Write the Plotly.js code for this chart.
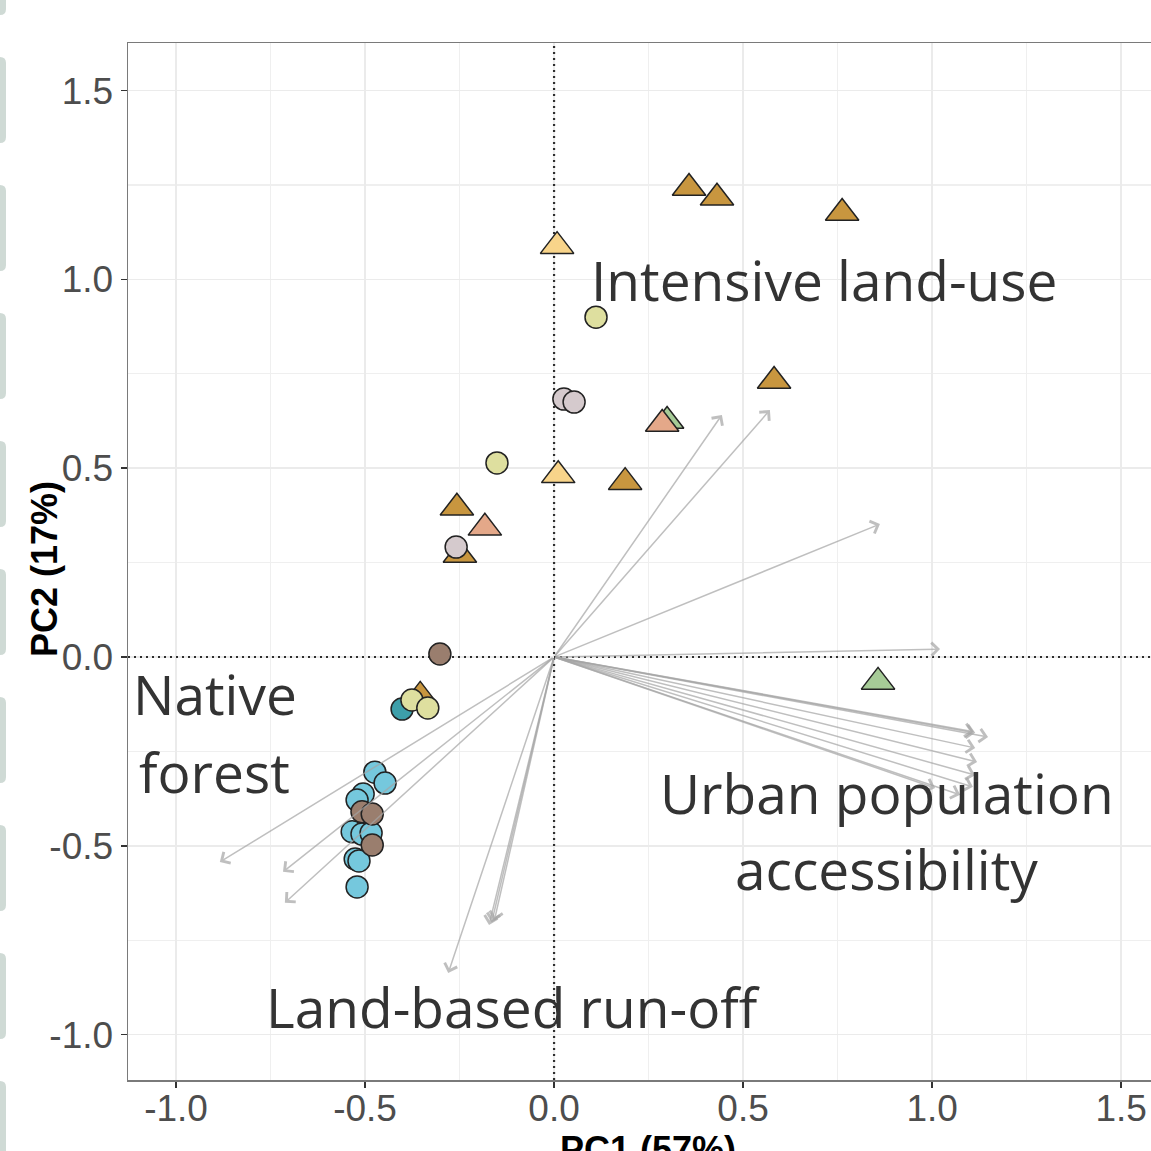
<!DOCTYPE html>
<html>
<head>
<meta charset="utf-8">
<script src="https://cdn.plot.ly/plotly-3.0.1.min.js"></script>
<style>
html, body { margin: 0; padding: 0; overflow: hidden; background: #ffffff; }
#chart { width: 1180px; height: 1175px; }
</style>
</head>
<body>
<div id="chart"></div>
<script>
// ---------------- data ----------------
const tickVals = [-1.0, -0.5, 0.0, 0.5, 1.0, 1.5];
const tickText = ['-1.0', '-0.5', '0.0', '0.5', '1.0', '1.5'];
const xTitle = 'PC1 (57%)';
const yTitle = 'PC2 (17%)';
const xRange = [-1.127, 1.624];
const yRange = [-1.1203, 1.626];

// site scores, triangles
const triGreenPC1 = [0.299, 0.857];
const triGreenPC2 = [0.625, -0.066];
const triGoldPC1 = [0.357, 0.431, 0.762, 0.582, 0.188, -0.257, -0.249, -0.354];
const triGoldPC2 = [1.242, 1.216, 1.176, 0.731, 0.463, 0.395, 0.270, -0.103];
const triLightPC1 = [0.008, 0.011];
const triLightPC2 = [1.088, 0.481];
const triSalmonPC1 = [0.286, -0.183];
const triSalmonPC2 = [0.617, 0.342];

// site scores, circles
const circBluePC1 = [-0.474, -0.447, -0.505, -0.521, -0.534, -0.508, -0.484, -0.526, -0.516, -0.521];
const circBluePC2 = [-0.305, -0.334, -0.363, -0.379, -0.463, -0.469, -0.466, -0.535, -0.540, -0.609];
const circTealPC1 = [-0.402];
const circTealPC2 = [-0.138];
const circBrownPC1 = [-0.302, -0.508, -0.481, -0.481];
const circBrownPC2 = [0.008, -0.410, -0.416, -0.498];
const circYellowPC1 = [0.111, -0.151, -0.376, -0.334];
const circYellowPC2 = [0.900, 0.514, -0.114, -0.135];
const circMauvePC1 = [0.026, 0.053, -0.259];
const circMauvePC2 = [0.683, 0.675, 0.291];

// variable loadings (arrow tips, drawn from the origin)
const loadPC1 = [0.444, 0.571, 0.862, 1.021,
                 1.114, 1.110, 1.148, 1.114, 1.119, 1.114, 1.108, 1.074, 1.008,
                 -0.884, -0.717, -0.712,
                 -0.172, -0.165, -0.158, -0.280];
const loadPC2 = [0.641, 0.654, 0.352, 0.021,
                 -0.201, -0.198, -0.212, -0.241, -0.278, -0.313, -0.344, -0.365, -0.347,
                 -0.543, -0.569, -0.651,
                 -0.710, -0.703, -0.698, -0.837];

const labelText = ['Intensive land-use', 'Native', 'forest', 'Urban population', 'accessibility', 'Land-based run-off'];

// ---------------- traces ----------------
const zeroDash = { color: '#2E2E2E', width: 2.2, dash: '2px,4px' };
const refLines = [
  { type: 'scatter', mode: 'lines', x: [0, 0], y: yRange, line: zeroDash, hoverinfo: 'skip', showlegend: false },
  { type: 'scatter', mode: 'lines', x: xRange, y: [0, 0], line: zeroDash, hoverinfo: 'skip', showlegend: false }
];

const outline = { color: '#222222', width: 1.5 };
function pts(x, y, symbol, color, size) {
  return {
    type: 'scatter', mode: 'markers', x: x, y: y, hoverinfo: 'x+y', showlegend: false,
    marker: { symbol: symbol, color: color, size: size, line: outline, opacity: 1 }
  };
}
const TRI = 29, CIRC = 22;
const traces = refLines.concat([
  pts(triGreenPC1, triGreenPC2, 'triangle-up', '#A6CB97', TRI),
  pts(triGoldPC1, triGoldPC2, 'triangle-up', '#C8963F', TRI),
  pts(triLightPC1, triLightPC2, 'triangle-up', '#F8D48A', TRI),
  pts(triSalmonPC1, triSalmonPC2, 'triangle-up', '#E4A889', TRI),
  pts(circBluePC1, circBluePC2, 'circle', '#75C8DD', CIRC),
  pts(circTealPC1, circTealPC2, 'circle', '#3D9FAA', CIRC),
  pts(circBrownPC1, circBrownPC2, 'circle', '#9A7E6E', CIRC),
  pts(circYellowPC1, circYellowPC2, 'circle', '#DEDF9F', CIRC),
  pts(circMauvePC1, circMauvePC2, 'circle', '#D5CACD', CIRC)
]);

// ---------------- annotations ----------------
const arrows = loadPC1.map((x, i) => ({
  x: x, y: loadPC2[i], xref: 'x', yref: 'y',
  ax: 0, ay: 0, axref: 'x', ayref: 'y',
  text: '', showarrow: true, arrowhead: 4, arrowsize: 1.7, arrowwidth: 1.5,
  arrowcolor: 'rgba(165,165,165,0.7)', standoff: 0, startstandoff: 0
}));

const labelFont = { family: 'Open Sans, Noto Sans, sans-serif', size: 55, color: '#333333' };
const labels = [
  { text: labelText[0], x: 0.093, y: 1.001, xanchor: 'left', yanchor: 'middle' },
  { text: labelText[1], x: -0.897, y: -0.097, xanchor: 'center', yanchor: 'middle' },
  { text: labelText[2], x: -0.897, y: -0.304, xanchor: 'center', yanchor: 'middle' },
  { text: labelText[3], x: 0.880, y: -0.360, xanchor: 'center', yanchor: 'middle' },
  { text: labelText[4], x: 0.880, y: -0.561, xanchor: 'center', yanchor: 'middle' },
  { text: labelText[5], x: -0.108, y: -0.925, xanchor: 'center', yanchor: 'middle' }
].map(a => Object.assign({ xref: 'x', yref: 'y', showarrow: false, font: labelFont }, a));

// ---------------- pixel helpers for paper-referenced decorations ----------------
const PL = 128, PR = 1168, PT = 43, PB = 1080;
function px2paperX(p) { return (p - PL) / (PR - PL); }
function px2paperY(p) { return (PB - p) / (PB - PT); }

const titleFont = { family: 'Liberation Sans, Arial, sans-serif', size: 36, color: '#000000', weight: 'bold' };
const yTitleAnno = {
  text: '<b>' + yTitle + '</b>', textangle: -90, showarrow: false,
  xref: 'paper', yref: 'paper', x: px2paperX(44), y: px2paperY(569),
  xanchor: 'center', yanchor: 'middle', font: titleFont
};

// slide-panel edges visible at the far left of the reference
function roundRect(x0, y0, x1, y1, r) {
  const X = px2paperX, Y = px2paperY;
  return 'M' + X(x0) + ',' + Y(y0) +
    ' L' + X(x1 - r) + ',' + Y(y0) +
    ' Q' + X(x1) + ',' + Y(y0) + ' ' + X(x1) + ',' + Y(y0 + r) +
    ' L' + X(x1) + ',' + Y(y1 - r) +
    ' Q' + X(x1) + ',' + Y(y1) + ' ' + X(x1 - r) + ',' + Y(y1) +
    ' L' + X(x0) + ',' + Y(y1) + ' Z';
}
const edgeShapes = [];
for (let k = -1; k <= 8; k++) {
  const top = 57 + 128 * k;
  edgeShapes.push({
    type: 'path', xref: 'paper', yref: 'paper', layer: 'above',
    path: roundRect(-20, top, 6, top + 86, 6),
    fillcolor: '#CFDAD5', line: { width: 0 }
  });
}

// ---------------- layout ----------------
const tickFont = { family: 'Liberation Sans, Arial, sans-serif', size: 37, color: '#4D4D4D' };
const axisCommon = {
  tickmode: 'array', tickvals: tickVals, ticktext: tickText, tickfont: tickFont,
  ticks: 'outside', ticklen: 6, tickwidth: 1.5, tickcolor: '#333333',
  showgrid: true, gridcolor: '#EBEBEB', gridwidth: 1.5,
  minor: { tickmode: 'linear', tick0: 0.25, dtick: 0.5, showgrid: true, gridcolor: '#EFEFEF', gridwidth: 1.2, ticks: '' },
  zeroline: false, showline: true, mirror: true, linecolor: '#7A7A7A', linewidth: 1.5
};

const layout = {
  width: 1180, height: 1175,
  margin: { l: PL, r: 1180 - PR, t: PT, b: 1175 - PB, pad: 0 },
  paper_bgcolor: '#ffffff', plot_bgcolor: '#ffffff',
  showlegend: false,
  xaxis: Object.assign({}, axisCommon, {
    range: xRange, ticklabelstandoff: -11,
    title: { text: '<b>' + xTitle + '</b>', font: titleFont, standoff: 7 }
  }),
  yaxis: Object.assign({}, axisCommon, {
    range: yRange
  }),
  shapes: edgeShapes,
  annotations: arrows.concat(labels, [yTitleAnno])
};

Plotly.newPlot('chart', traces, layout, { displayModeBar: false, staticPlot: true });
</script>
</body>
</html>
